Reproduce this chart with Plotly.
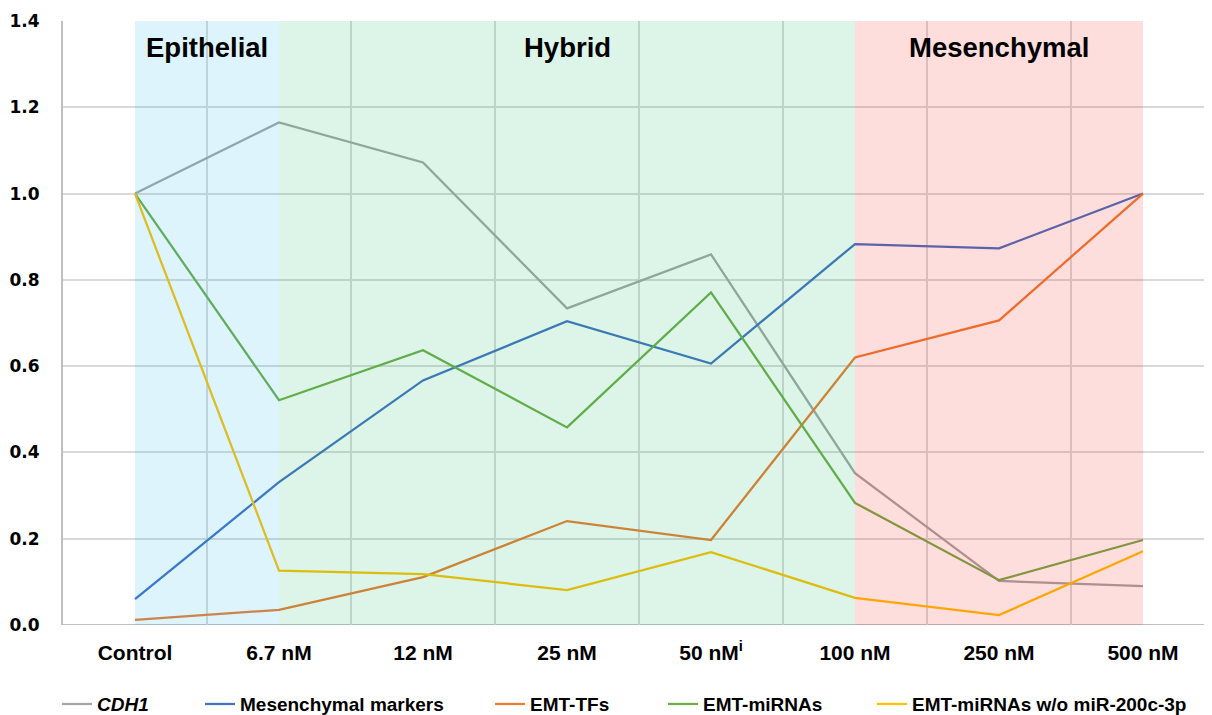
import plotly.graph_objects as go

categories = ["Control", "6.7 nM", "12 nM", "25 nM", "50 nM<sup>i</sup>", "100 nM", "250 nM", "500 nM"]
cdh1 = [1.0, 1.165, 1.072, 0.734, 0.859, 0.352, 0.102, 0.090]
mesenchymal = [0.060, 0.331, 0.567, 0.704, 0.606, 0.883, 0.873, 1.0]
emt_tfs = [0.012, 0.035, 0.111, 0.241, 0.197, 0.620, 0.706, 1.0]
emt_mirnas = [1.0, 0.521, 0.637, 0.458, 0.771, 0.283, 0.104, 0.197]
emt_mirnas_wo = [1.0, 0.126, 0.118, 0.081, 0.169, 0.063, 0.023, 0.171]
y_ticks = [0.0, 0.2, 0.4, 0.6, 0.8, 1.0, 1.2, 1.4]
regions = [("Epithelial", 0, 1, 0.5, "rgba(0,176,240,0.135)"),
           ("Hybrid", 1, 5, 3, "rgba(0,176,80,0.135)"),
           ("Mesenchymal", 5, 7, 6, "rgba(245,0,0,0.135)")]

series = [("<i>CDH1</i>", cdh1, "#A5A5A5"),
          ("Mesenchymal markers", mesenchymal, "#4472C4"),
          ("EMT-TFs", emt_tfs, "#ED7D31"),
          ("EMT-miRNAs", emt_mirnas, "#70AD47"),
          ("EMT-miRNAs w/o miR-200c-3p", emt_mirnas_wo, "#FFC000")]
legend_x = [-0.0052, 0.1184, 0.3691, 0.5186, 0.6992]

x_idx = list(range(len(categories)))

# page body adds an 8px offset; margins compensate so the plot sits where the reference has it
ML, MT, MB = 55, 13, 98
plot_w = 1212 - ML

fig = go.Figure()
legend_names = ["legend", "legend2", "legend3", "legend4", "legend5"]
legend_font = dict(family="Liberation Sans, Arial", size=19, color="black", weight="bold")
for (name, vals, col), lg, lx in zip(series, legend_names, legend_x):
    fig.add_trace(go.Scatter(x=x_idx, y=vals, name=name, mode="lines",
                             line=dict(color=col, width=2.25), legend=lg))
    fig.update_layout({lg: dict(orientation="h", x=lx, xanchor="left", y=-0.131, yanchor="middle",
                                font=legend_font, bgcolor="rgba(0,0,0,0)")})

shapes = []
annotations = []
for label, a, b, cx, col in regions:
    shapes.append(dict(type="rect", xref="x", yref="y", x0=a, x1=b, y0=0, y1=1.4,
                       fillcolor=col, line=dict(width=0), layer="above"))
    annotations.append(dict(x=cx, y=1.338, xref="x", yref="y",
                            text="<b>" + label + "</b>", showarrow=False,
                            font=dict(family="Liberation Sans, Arial", size=27.5, color="black")))

fig.update_layout(
    width=1212, height=715,
    margin=dict(l=ML, r=0, t=MT, b=MB, autoexpand=False),
    plot_bgcolor="white", paper_bgcolor="white",
    shapes=shapes, annotations=annotations,
    showlegend=True,
    xaxis=dict(range=[-0.5, -0.5 + plot_w / 144], tickvals=x_idx, ticktext=categories,
               automargin=False,
               showgrid=False, zeroline=False, showline=False, ticks="",
               tickfont=dict(family="Liberation Sans, Arial", size=21, color="black", weight="bold"),
               ticklabelstandoff=13,
               minor=dict(tickvals=[i + 0.5 for i in x_idx], showgrid=True,
                          gridcolor="#D9D9D9", gridwidth=1.5, ticks="")),
    yaxis=dict(range=[0, 1.4], tickvals=y_ticks, ticktext=["%.1f" % v for v in y_ticks],
               automargin=False,
               showgrid=True, gridcolor="#D9D9D9", gridwidth=1.5, zeroline=False,
               showline=True, linecolor="#BFBFBF", linewidth=2, ticks="",
               tickfont=dict(family="DejaVu Sans, Verdana", size=17, color="black", weight="bold"),
               ticklabelstandoff=18),
)
# bottom axis line
fig.add_shape(type="line", xref="paper", yref="y", x0=0, x1=1, y0=0, y1=0,
              line=dict(color="#BFBFBF", width=2), layer="below")

fig.write_html("out.html")
